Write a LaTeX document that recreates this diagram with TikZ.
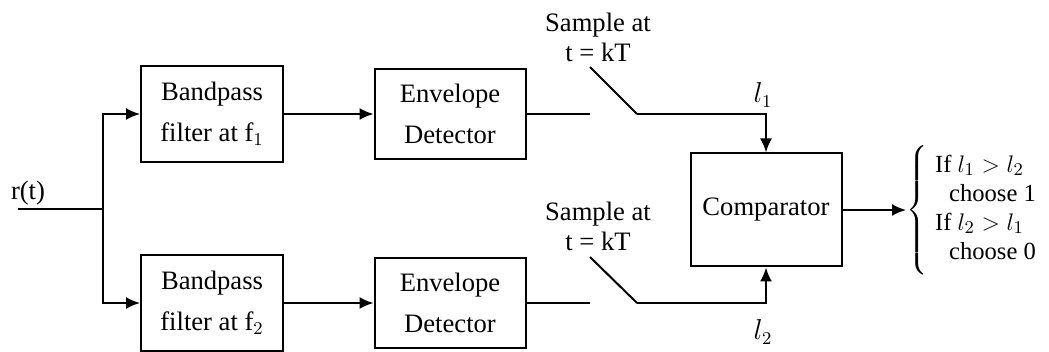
\documentclass[tikz,border=0pt]{standalone}
\usepackage{fontspec}
\setmainfont{Liberation Serif}
\usepackage{amsmath}
\usetikzlibrary{arrows.meta, positioning}
\tikzset{
  box/.style={rectangle, draw, line width=1pt, align=center, inner sep=3pt, font=\fontsize{13.3}{20.5}\selectfont},
  filterbox/.style={box, minimum width=71pt, minimum height=48pt},
  envbox/.style={box, minimum width=75.5pt, minimum height=45pt},
  lbl/.style={align=center, font=\fontsize{13.3}{15}\selectfont, inner sep=1pt},
  line/.style={line width=1pt, -{Latex[length=7pt, width=6pt]}},
  wire/.style={line width=1pt}
}

\begin{document}
\begin{tikzpicture}[x=0.5pt, y=-0.5pt]
    \useasboundingbox (0,0) rectangle (1049,352);
    % input and split
    \coordinate (in) at (18,209);
    \coordinate (split) at (103,209);
    \node[lbl] (rt) at (28,193) {r(t)};
    \node[filterbox] (bpf1) at (212,114) {Bandpass\\filter at f$_1$};
    \node[filterbox] (bpf2) at (212,303) {Bandpass\\filter at f$_2$};
    \node[envbox] (env1) at (450,114) {Envelope\\Detector};
    \node[envbox] (env2) at (450,303) {Envelope\\Detector};
    \node[box, minimum width=75.5pt, minimum height=56.5pt] (cmp) at (766,210) {Comparator};
    % sampling switches
    \coordinate (sw1a) at (590,114);
    \coordinate (sw1t) at (590,67);
    \coordinate (sw1b) at (637,114);
    \coordinate (sw2a) at (590,303);
    \coordinate (sw2t) at (590,257);
    \coordinate (sw2b) at (637,303);
    \node[lbl] (smp1) at (598,37) {Sample at\\t = kT};
    \node[lbl] (smp2) at (598,226) {Sample at\\t = kT};
    \node[lbl] (l1) at (763,95) {$l_1$};
    \node[lbl] (l2) at (763,332) {$l_2$};
    \coordinate (out) at (906,210);
    \node[lbl, anchor=west, inner sep=0pt, font=\fontsize{12.3}{14.5}\selectfont] (rule) at (out) {$\left\{\rule[-29pt]{0pt}{58pt}\right.$\hspace{2.5pt}\begin{tabular}{@{}l@{}}If $l_1 > l_2$\\ \hspace{7pt}choose 1\\ If $l_2 > l_1$\\ \hspace{7pt}choose 0\end{tabular}};
    \draw[wire] (in) -- (split);
    \draw[line] (split) |- (bpf1.west);
    \draw[line] (split) |- (bpf2.west);
    \draw[line] (bpf1) -- (env1);
    \draw[line] (bpf2) -- (env2);
    \draw[wire] (env1.east) -- (sw1a);
    \draw[wire] (env2.east) -- (sw2a);
    \draw[wire] (sw1t) -- (sw1b);
    \draw[wire] (sw2t) -- (sw2b);
    \draw[line] (sw1b) -| (cmp.north);
    \draw[line] (sw2b) -| (cmp.south);
    \draw[line] (cmp.east) -- (out);
  \end{tikzpicture}
\end{document}
